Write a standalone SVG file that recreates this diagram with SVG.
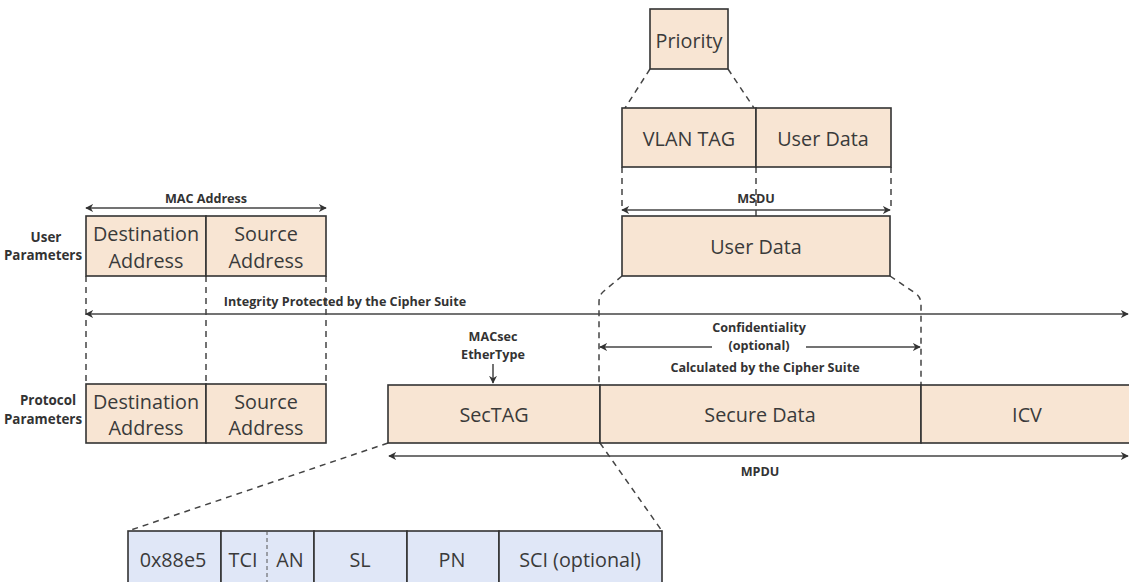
<svg xmlns="http://www.w3.org/2000/svg" width="1129" height="582" viewBox="0 0 1129 582">
  <defs>
    <style>
      .peach { fill: #f8e5d3; stroke: #333333; stroke-width: 1.6; }
      .blue { fill: #e0e7f7; stroke: #333333; stroke-width: 1.6; }
      .box-text { font-family: "Open Sans", "Noto Sans", sans-serif; font-size: 19.8px; fill: #3a3a3a; text-anchor: middle; dominant-baseline: central; }
      .label { font-family: "Open Sans", "Noto Sans", sans-serif; font-size: 12.6px; font-weight: bold; fill: #333333; text-anchor: middle; dominant-baseline: central; }
      .side { font-size: 13.4px; }
      .dash { fill: none; stroke: #444444; stroke-width: 1.5; stroke-dasharray: 6 5; }
      .arrow { fill: none; stroke: #444444; stroke-width: 1.5; }
    </style>
    <marker id="head" viewBox="0 0 10 10" refX="9" refY="5" markerWidth="8" markerHeight="8" orient="auto-start-reverse" markerUnits="userSpaceOnUse">
      <path d="M0,0 L10,5 L0,10 L3,5 Z" fill="#333333"/>
    </marker>
  </defs>

  <rect width="1129" height="582" fill="#ffffff"/>

  <!-- connectors: dashed projections and dimension arrows -->
  <g id="connectors">
    <!-- Priority expands into the VLAN TAG -->
    <path class="dash" d="M650,69 L625,108"/>
    <path class="dash" d="M728,69 L754,108"/>
    <!-- VLAN frame down to MSDU -->
    <path class="dash" d="M622,167 V210"/>
    <path class="dash" d="M756,167 V210"/>
    <path class="dash" d="M891,167 V210"/>
    <path class="arrow" d="M756,210 V216"/>
    <!-- MSDU projected onto Secure Data -->
    <path class="dash" d="M622,276 L604,291 Q599,295 599,302 V385"/>
    <path class="dash" d="M890,276 L915,293 Q921,297 921,304 V385"/>
    <!-- user parameters down to protocol parameters -->
    <path class="dash" d="M86,276 V384"/>
    <path class="dash" d="M206,276 V384"/>
    <path class="dash" d="M326,276 V384"/>
    <!-- SecTAG breakdown -->
    <path class="dash" d="M388,443 L128,531"/>
    <path class="dash" d="M600,443 L662,531"/>

    <!-- dimension arrows -->
    <path class="arrow" d="M86,208 H326" marker-start="url(#head)" marker-end="url(#head)"/>
    <path class="arrow" d="M622,210 H890" marker-start="url(#head)" marker-end="url(#head)"/>
    <path class="arrow" d="M86,314 H1128" marker-start="url(#head)" marker-end="url(#head)"/>
    <path class="arrow" d="M600,347 H712" marker-start="url(#head)"/>
    <path class="arrow" d="M806,347 H920" marker-end="url(#head)"/>
    <path class="arrow" d="M493,364 V383" marker-end="url(#head)"/>
    <path class="arrow" d="M389,456 H1128" marker-start="url(#head)" marker-end="url(#head)"/>
  </g>

  <!-- VLAN priority -->
  <g id="priority">
    <rect class="peach" x="650" y="9" width="78" height="60"/>
    <text class="box-text" x="689" y="40">Priority</text>
  </g>

  <!-- VLAN tagged frame -->
  <g id="vlan-frame">
    <rect class="peach" x="622" y="108" width="134" height="59"/>
    <rect class="peach" x="756" y="108" width="135" height="59"/>
    <text class="box-text" x="689" y="138">VLAN TAG</text>
    <text class="box-text" x="823" y="138">User Data</text>
  </g>

  <g id="msdu">
    <text class="label" x="756" y="198">MSDU</text>
    <rect class="peach" x="622" y="216" width="268" height="60"/>
    <text class="box-text" x="756" y="246">User Data</text>
  </g>

  <!-- user parameters -->
  <g id="user-parameters">
    <text class="label" x="206" y="198">MAC Address</text>
    <text class="label side" x="46" y="237">User</text>
    <text class="label side" x="43" y="255">Parameters</text>
    <rect class="peach" x="86" y="216" width="120" height="60"/>
    <rect class="peach" x="206" y="216" width="120" height="60"/>
    <text class="box-text" x="146" y="233">Destination</text>
    <text class="box-text" x="146" y="260">Address</text>
    <text class="box-text" x="266" y="233">Source</text>
    <text class="box-text" x="266" y="260">Address</text>
  </g>

  <!-- protocol parameters -->
  <g id="protocol-parameters">
    <text class="label side" x="48" y="400">Protocol</text>
    <text class="label side" x="43" y="419">Parameters</text>
    <rect class="peach" x="86" y="384" width="120" height="59"/>
    <rect class="peach" x="206" y="384" width="120" height="59"/>
    <text class="box-text" x="146" y="401">Destination</text>
    <text class="box-text" x="146" y="427">Address</text>
    <text class="box-text" x="266" y="401">Source</text>
    <text class="box-text" x="266" y="427">Address</text>
  </g>

  <g id="labels">
    <text class="label" x="345" y="301">Integrity Protected by the Cipher Suite</text>
    <text class="label" x="493" y="336">MACsec</text>
    <text class="label" x="493" y="354">EtherType</text>
    <text class="label" x="759" y="327">Confidentiality</text>
    <text class="label" x="759" y="345">(optional)</text>
    <text class="label" x="765" y="367">Calculated by the Cipher Suite</text>
    <text class="label" x="760" y="471">MPDU</text>
  </g>

  <!-- MPDU -->
  <g id="mpdu">
    <rect class="peach" x="388" y="385" width="212" height="58"/>
    <rect class="peach" x="600" y="385" width="321" height="58"/>
    <rect class="peach" x="921" y="385" width="212" height="58"/>
    <text class="box-text" x="494" y="414">SecTAG</text>
    <text class="box-text" x="760" y="414">Secure Data</text>
    <text class="box-text" x="1027" y="414">ICV</text>
  </g>

  <!-- SecTAG fields -->
  <g id="sectag-fields">
    <rect class="blue" x="128" y="531" width="93" height="60"/>
    <rect class="blue" x="221" y="531" width="93" height="60"/>
    <rect class="blue" x="314" y="531" width="93" height="60"/>
    <rect class="blue" x="407" y="531" width="92" height="60"/>
    <rect class="blue" x="499" y="531" width="163" height="60"/>
    <path d="M267,531 V582" fill="none" stroke="#555555" stroke-width="1" stroke-dasharray="4 3"/>
    <text class="box-text" x="173" y="559">0x88e5</text>
    <text class="box-text" x="243" y="559">TCI</text>
    <text class="box-text" x="290" y="559">AN</text>
    <text class="box-text" x="360" y="559">SL</text>
    <text class="box-text" x="452" y="559">PN</text>
    <text class="box-text" x="580" y="559">SCI (optional)</text>
  </g>
</svg>
